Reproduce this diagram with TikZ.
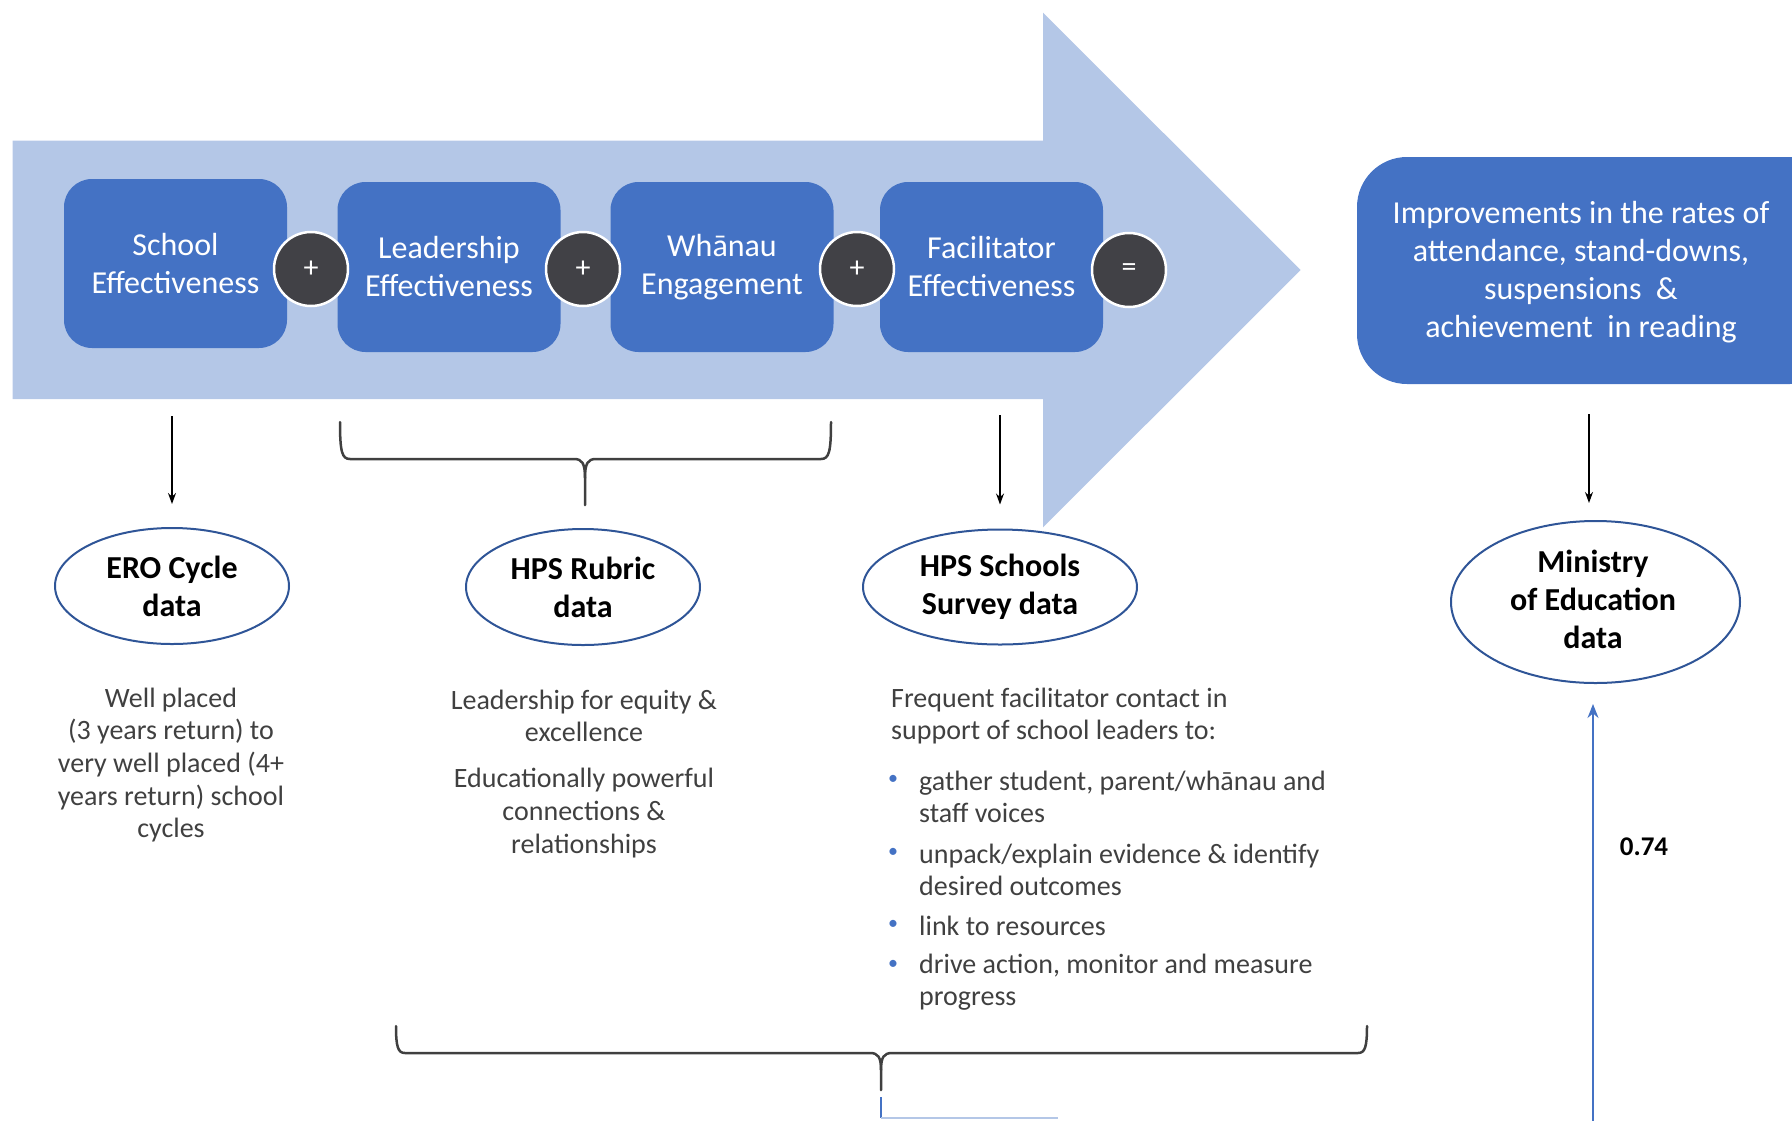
\documentclass[tikz,border=0pt]{standalone}
\usepackage{fontspec}
\setmainfont{Carlito}
\usetikzlibrary{shapes.geometric,arrows.meta}
\definecolor{arrowbg}{HTML}{B4C7E7}
\definecolor{boxblue}{HTML}{4472C4}
\definecolor{ringblue}{HTML}{2F5597}
\definecolor{opgrey}{HTML}{414146}
\definecolor{txtgrey}{HTML}{404040}
\begin{document}
\begin{tikzpicture}[x=1pt,y=-1pt,
  stepbox/.style={rectangle, rounded corners=28pt, fill=boxblue, text=white, minimum width=223pt, minimum height=170pt, align=center, font=\fontsize{32}{38}\selectfont, inner sep=0pt},
  opnode/.style={circle, fill=opgrey, draw=white, line width=2.5pt, minimum size=74pt, inner sep=0pt, text=white, font=\fontsize{30}{36}\selectfont},
  datanode/.style={ellipse, draw=ringblue, line width=2pt, align=center, font=\fontsize{32}{38}\selectfont\bfseries, inner sep=0pt},
  bodytext/.style={text=txtgrey, font=\fontsize{28}{32.6}\selectfont, inner sep=0pt},
  bulletmark/.style={text=boxblue, font=\fontsize{20}{24}\selectfont, inner sep=0pt},
  conn/.style={-{Stealth[length=11pt,width=8pt]}, line width=1.2pt, black},
  blueconn/.style={-{Stealth[length=14pt,width=11pt]}, line width=1.5pt, boxblue},
  bracket/.style={line width=2.5pt, draw=txtgrey, line cap=round},
]
\useasboundingbox (0,0) rectangle (1792,1120);
\clip (0,0) rectangle (1792,1120);
% big arrow
\fill[arrowbg] (12.6,140.6) -- (1043,140.6) -- (1043,12.6) -- (1300.6,270) -- (1043,527.4) -- (1043,399) -- (12.6,399) -- cycle;
% step boxes
\node[stepbox, minimum height=169pt] (school) at (175.5,263.5) {School\\Effectiveness};
\node[stepbox] (lead) at (449,267) {Leadership\\Effectiveness};
\node[stepbox] (whanau) at (722,267) {Whānau\\Engagement};
\node[stepbox] (fac) at (991.5,267) {Facilitator\\Effectiveness};
\node[opnode] (op1) at (311,269) {+};
\node[opnode] (op2) at (583,269) {+};
\node[opnode] (op3) at (857,269) {+};
\node[opnode] (op4) at (1129,270) {=};
% result box
\node[rectangle, rounded corners=50pt, fill=boxblue, minimum width=483pt, minimum height=227pt, inner sep=0pt] (result) at (1598.5,270.5) {};
\node[text=white, align=center, font=\fontsize{32}{38}\selectfont, inner sep=0pt] (restxt) at (1581,272) {Improvements in the rates of\\attendance, stand-downs,\\suspensions \ \&\\achievement \ in reading};
% data ellipses
\node[datanode, minimum width=234pt, minimum height=116pt] (ero) at (172,586) {ERO Cycle\\data};
\node[datanode, minimum width=234pt, minimum height=116pt] (rubric) at (583,587) {HPS Rubric\\data};
\node[datanode, minimum width=274pt, minimum height=115pt] (survey) at (1000,587) {HPS Schools\\Survey data};
\node[datanode, minimum width=289pt, minimum height=162pt] (ministry) at (1595.5,602) {};
\node[font=\fontsize{32}{38}\selectfont\bfseries, align=center, inner sep=0pt] (mintxt) at (1593,599) {Ministry\\of Education\\data};
% arrows
\draw[conn, shorten <=68pt, shorten >=23pt] (ero.north |- school.south) -- (ero.north);
\draw[conn, shorten <=63pt, shorten >=24pt] (survey.north |- fac.south) -- (survey.north);
\coordinate (resbot) at (1589,384);
\draw[conn, shorten <=30pt, shorten >=17pt] (resbot) -- (resbot |- ministry.north);
% bracket over leadership + whanau
\draw[bracket] (340,422) .. controls (340,452) and (342,459) .. (350,459) -- (574,459) .. controls (582,459) and (585,463) .. (585,478) -- (585,505);
\draw[bracket] (831,422) .. controls (831,452) and (829,459) .. (821,459) -- (596,459) .. controls (588,459) and (585,463) .. (585,478);
% bottom bracket
\draw[bracket] (396,1026) .. controls (396,1047) and (398,1053) .. (405,1053) -- (870,1053) .. controls (878,1053) and (881,1057) .. (881,1070) -- (881,1090);
\draw[bracket] (1367,1026) .. controls (1367,1047) and (1365,1053) .. (1358,1053) -- (892,1053) .. controls (884,1053) and (881,1057) .. (881,1070);
\coordinate (bstart) at (881,1097);
\coordinate (bcorner) at (881,1118);
\coordinate (bend) at (1058,1118);
\draw[boxblue, line width=1.5pt] (bstart) -- (bcorner);
\draw[boxblue!40, line width=2pt] (bcorner) -- (bend);
% blue up arrow
\coordinate (mbottom) at (1593,1125);
\draw[blueconn, shorten >=20pt] (mbottom) -- (mbottom |- ministry.south);
\node[font=\fontsize{27}{30}\selectfont\bfseries, inner sep=0pt] (val) at (1644,847) {0.74};
% descriptive texts
\node[bodytext, align=center] (erotxt) at (171,765) {Well placed\\(3 years return) to\\very well placed (4+\\years return) school\\cycles};
\node[bodytext, align=center] (rub1) at (584,716) {Leadership for equity \&\\excellence};
\node[bodytext, align=center] (rub2) at (584,813) {Educationally powerful\\connections \&\\relationships};
\node[bodytext, align=left, anchor=west] (sur0) at (891,716) {Frequent facilitator contact in\\support of school leaders to:};
\node[bulletmark] (b1) at (893,780) {•};
\node[bulletmark] (b2) at (893,853) {•};
\node[bulletmark] (b3) at (893,925) {•};
\node[bulletmark] (b4) at (893,965) {•};
\node[bodytext, align=left, anchor=west] (i1) at (919,797) {gather student, parent/whānau and\\staff voices};
\node[bodytext, align=left, anchor=west] (i2) at (919,870) {unpack/explain evidence \& identify\\desired outcomes};
\node[bodytext, align=left, anchor=west] (i3) at (919,926) {link to resources};
\node[bodytext, align=left, anchor=west] (i4) at (919,982) {drive action, monitor and measure\\progress};
\end{tikzpicture}
\end{document}
